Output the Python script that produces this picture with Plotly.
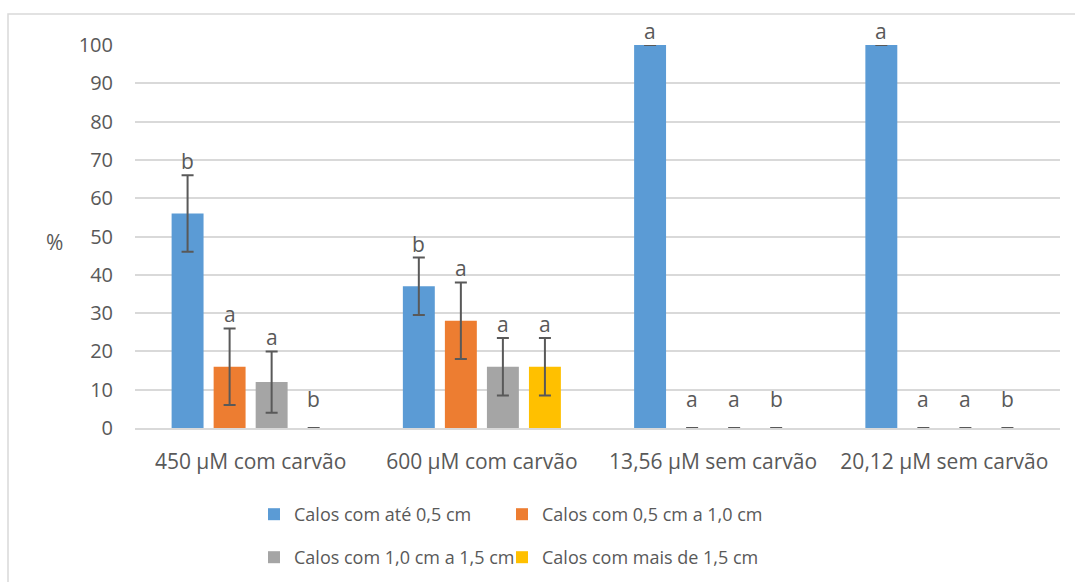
import plotly.graph_objects as go

categories = ["450 µM com carvão", "600 µM com carvão", "13,56 µM sem carvão", "20,12 µM sem carvão"]
series_names = ["Calos com até 0,5 cm", "Calos com 0,5 cm a 1,0 cm",
                "Calos com 1,0 cm a 1,5 cm", "Calos com mais de 1,5 cm"]
values = [
    [56, 37, 100, 100],
    [16, 28, 0, 0],
    [12, 16, 0, 0],
    [0, 16, 0, 0],
]
errors = [
    [10, 7.5, 0, 0],
    [10, 10, 0, 0],
    [8, 7.5, 0, 0],
    [0, 7.5, 0, 0],
]
letters = [
    ["b", "b", "a", "a"],
    ["a", "a", "a", "a"],
    ["a", "a", "a", "a"],
    ["b", "a", "b", "b"],
]
colors = ["#5B9BD5", "#ED7D31", "#A5A5A5", "#FFC000"]
legend_ids = ["legend", "legend2", "legend3", "legend4"]

FONT = "Open Sans"
TXT = "#595959"
FS = 21

W, H = 1075, 582
ml, mr, mt, mb = 135, 15, 45, 154
pw, ph = W - ml - mr, H - mt - mb

def px2x(p):
    return (p - ml) / pw

def px2y(p):
    return (H - mb - p) / ph

fig = go.Figure()
for i in range(4):
    fig.add_trace(go.Bar(
        name=series_names[i], x=categories, y=values[i],
        marker=dict(color=colors[i], line=dict(width=0)),
        error_y=dict(type="data", array=errors[i], visible=True,
                     color="#595959", thickness=2, width=6),
        legend=legend_ids[i],
    ))

# letter annotations above error bars
n = 4
slot = (1 - 0.273) / n
for i in range(4):
    for j, cat in enumerate(categories):
        top = values[i][j] + errors[i][j]
        xoff = (i - (n - 1) / 2) * slot
        fig.add_annotation(
            x=j + xoff, y=top if top > 0 else 4, xref="x", yref="y",
            text=letters[i][j], showarrow=False, yanchor="bottom",
            font=dict(family=FONT, size=FS, color=TXT), yshift=-2,
        )

fig.add_annotation(x=px2x(54), y=px2y(242), xref="paper", yref="paper",
                   xanchor="center", yanchor="middle",
                   text="%", showarrow=False,
                   font=dict(family=FONT, size=FS, color=TXT))

# chart frame
fig.add_shape(type="rect", xref="paper", yref="paper",
              x0=px2x(8), x1=px2x(1085), y0=px2y(600), y1=px2y(14),
              line=dict(color="#D9D9D9", width=1.5), fillcolor="rgba(0,0,0,0)",
              layer="below")

def leg(xp, yp):
    return dict(orientation="h", xref="container", yref="container",
                x=xp / W, y=1 - yp / H, xanchor="left", yanchor="top",
                font=dict(family=FONT, size=18, color=TXT),
                bgcolor="rgba(0,0,0,0)")

fig.update_layout(
    width=W, height=H,
    margin=dict(l=ml, r=mr, t=mt, b=mb, autoexpand=False),
    paper_bgcolor="white", plot_bgcolor="white",
    barmode="group", bargap=0.273, bargroupgap=0.24,
    font=dict(family=FONT, size=FS, color=TXT),
    xaxis=dict(type="category", showgrid=False, showline=True, linecolor="#D9D9D9",
               linewidth=1.5, ticks="outside", ticklen=14, tickcolor="rgba(0,0,0,0)",
               tickfont=dict(family=FONT, size=FS, color=TXT), fixedrange=True),
    yaxis=dict(range=[0, 100], dtick=10, showgrid=True, gridcolor="#D9D9D9",
               gridwidth=1.5, zeroline=False, ticks="outside", ticklen=17,
               tickcolor="rgba(0,0,0,0)", showline=False,
               tickfont=dict(family=FONT, size=20, color=TXT), fixedrange=True),
    legend=leg(254, 496),
    legend2=leg(502, 496),
    legend3=leg(254, 539),
    legend4=leg(502, 539),
    showlegend=True,
)

fig.write_html("out.html", config={"displayModeBar": False},
               post_script="document.body.style.margin='0';")
